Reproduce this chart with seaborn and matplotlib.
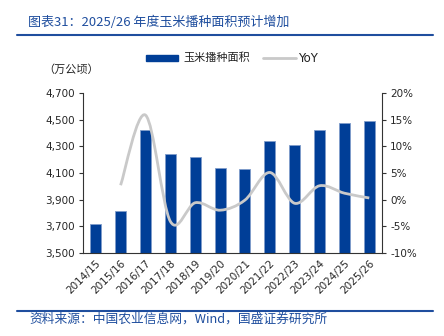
import numpy as np
import pandas as pd
import matplotlib
matplotlib.use("Agg")
import matplotlib.pyplot as plt
import seaborn as sns
from matplotlib.path import Path
from matplotlib.patches import PathPatch
from matplotlib.ticker import FuncFormatter, FixedLocator

seasons = ["2014/15", "2015/16", "2016/17", "2017/18", "2018/19", "2019/20",
           "2020/21", "2021/22", "2022/23", "2023/24", "2024/25", "2025/26"]
area = [3718, 3817, 4425, 4245, 4220, 4135, 4130, 4342, 4312, 4425, 4480, 4492]
yoy = [np.nan, 2.7, 15.9, -4.1, -0.6, -2.0, -0.1, 5.1, -0.7, 2.6, 1.2, 0.3]

left_ticks = [3500, 3700, 3900, 4100, 4300, 4500, 4700]
right_ticks = [-10, -5, 0, 5, 10, 15, 20]

BLUE = "#003E97"
EDGE = "#7F9CCB"
GREY = "#C9C9C9"
TXTBLUE = "#1F4E9E"

sns.set_style("white")
plt.rcParams['font.family'] = ['DejaVu Sans', 'Noto Sans CJK SC']

fig = plt.figure(figsize=(4.44, 3.36), dpi=100)
ax = fig.add_axes([83.3/444, 1-252.7/336, (381.7-83.3)/444, (252.7-93.3)/336])

df = pd.DataFrame({"season": seasons, "area": area})
sns.barplot(data=df, x="season", y="area", ax=ax, color=BLUE, width=0.44,
            saturation=1, edgecolor=EDGE, linewidth=0.6, zorder=2)
ax.set_ylim(3500, 4700)
ax.set_xlim(-0.5, len(seasons) - 0.5)
ax.set_xlabel("")
ax.set_ylabel("")
ax.yaxis.set_major_locator(FixedLocator(left_ticks))
ax.yaxis.set_major_formatter(FuncFormatter(lambda v, p: f"{int(v):,}"))
ax.set_xticks(range(len(seasons)))
ax.set_xticklabels(seasons, rotation=45, ha="right", rotation_mode="anchor", fontsize=7.5)
ax.set_xticks(np.arange(-0.5, len(seasons), 1.0), minor=True)
ax.tick_params(axis="x", which="major", length=0, pad=4)
ax.tick_params(axis="x", which="minor", length=3, direction="out", color="#333333", width=0.8)
ax.tick_params(axis="y", length=3, direction="out", color="#333333", width=0.8, labelsize=7.5, pad=3)
for s in ["top", "right"]:
    ax.spines[s].set_visible(False)
for s in ["left", "bottom"]:
    ax.spines[s].set_color("#333333")
    ax.spines[s].set_linewidth(0.8)

ax2 = ax.twinx()
ax2.set_ylim(-10, 20)
ax2.yaxis.set_major_locator(FixedLocator(right_ticks))
ax2.yaxis.set_major_formatter(FuncFormatter(lambda v, p: f"{int(v)}%"))
ax2.tick_params(axis="y", length=3, direction="out", color="#333333", width=0.8, labelsize=7.5, pad=3)
for s in ["top", "left", "bottom"]:
    ax2.spines[s].set_visible(False)
ax2.spines["right"].set_color("#333333")
ax2.spines["right"].set_linewidth(0.8)

# smoothed line (Catmull-Rom rendered as cubic Bezier)
pts = [(i, v) for i, v in enumerate(yoy) if not np.isnan(v)]
P = np.array(pts, dtype=float)
verts = [tuple(P[0])]
codes = [Path.MOVETO]
t = 1/6
for i in range(len(P) - 1):
    p0 = P[i - 1] if i > 0 else P[i]
    p1 = P[i]
    p2 = P[i + 1]
    p3 = P[i + 2] if i + 2 < len(P) else P[i + 1]
    c1 = p1 + (p2 - p0) * t
    c2 = p2 - (p3 - p1) * t
    verts += [tuple(c1), tuple(c2), tuple(p2)]
    codes += [Path.CURVE4] * 3
ax2.add_patch(PathPatch(Path(verts, codes), facecolor="none", edgecolor=GREY, lw=2, zorder=3))

# title, rules, source
fig.text(28/444, 1-22/336, "图表31：2025/26 年度玉米播种面积预计增加", fontsize=9.4,
         color=TXTBLUE, va="center", ha="left", style="italic",
         family=['Noto Sans CJK SC', 'DejaVu Sans'])
fig.add_artist(plt.Line2D([17/444, 433/444], [1-35/336, 1-35/336], color=TXTBLUE, lw=1.5))
fig.add_artist(plt.Line2D([17/444, 433/444], [1-311/336, 1-311/336], color=TXTBLUE, lw=1.5))
fig.text(29/444, 1-319/336, "资料来源：中国农业信息网，Wind，国盛证券研究所", fontsize=9.2,
         color=TXTBLUE, va="center", ha="left", style="italic",
         family=['Noto Sans CJK SC', 'DejaVu Sans'])
fig.text(43/444, 1-70/336, "（万公顷）", fontsize=8, color="#222222", va="center", ha="left",
         family=['Noto Sans CJK SC', 'DejaVu Sans'])

# legend
fig.add_artist(plt.Rectangle((146/444, 1-61/336), 32/444, 6/336, color=BLUE, transform=fig.transFigure))
fig.text(183/444, 1-58/336, "玉米播种面积", fontsize=8, color="#222222", va="center", ha="left",
         family=['Noto Sans CJK SC', 'DejaVu Sans'])
fig.add_artist(plt.Line2D([263/444, 296/444], [1-58/336, 1-58/336], color=GREY, lw=2))
fig.text(298/444, 1-58/336, "YoY", fontsize=8.5, color="#222222", va="center", ha="left")

fig.savefig("out.png", dpi=100)
